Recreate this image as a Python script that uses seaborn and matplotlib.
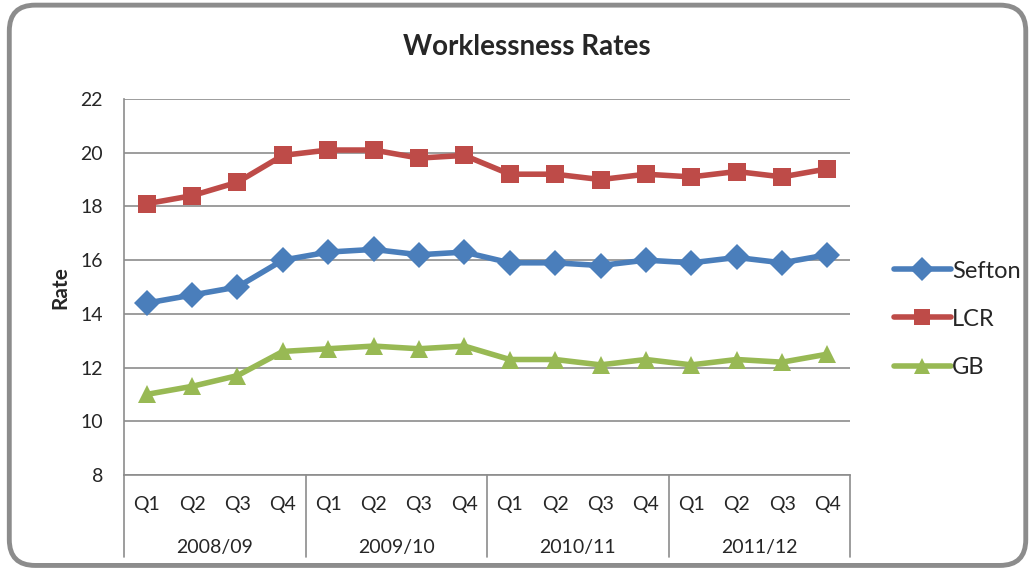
import pandas as pd
import seaborn as sns
import matplotlib.pyplot as plt
from matplotlib.patches import FancyBboxPatch
import matplotlib.transforms as mtransforms

sns.set_theme(style="white")
plt.rcParams['font.family'] = ['Lato', 'DejaVu Sans']

# data
years = ["2008/09", "2009/10", "2010/11", "2011/12"]
quarters = ["Q1", "Q2", "Q3", "Q4"]
sefton = [14.4, 14.7, 15.0, 16.0, 16.3, 16.4, 16.2, 16.3, 15.9, 15.9, 15.8, 16.0, 15.9, 16.1, 15.9, 16.2]
lcr = [18.1, 18.4, 18.9, 19.9, 20.1, 20.1, 19.8, 19.9, 19.2, 19.2, 19.0, 19.2, 19.1, 19.3, 19.1, 19.4]
gb = [11.0, 11.3, 11.7, 12.6, 12.7, 12.8, 12.7, 12.8, 12.3, 12.3, 12.1, 12.3, 12.1, 12.3, 12.2, 12.5]

n = len(sefton)
df = pd.DataFrame({
    'idx': list(range(n)) * 3,
    'rate': sefton + lcr + gb,
    'series': ['Sefton'] * n + ['LCR'] * n + ['GB'] * n,
})

palette = {'Sefton': '#4A7EBB', 'LCR': '#BE4B48', 'GB': '#98B954'}
markers = {'Sefton': 'D', 'LCR': 's', 'GB': '^'}

fig = plt.figure(figsize=(10.33, 5.70), dpi=100)
ax = fig.add_axes([0.120, 0.1667, 0.703, 0.6596])

sns.lineplot(data=df, x='idx', y='rate', hue='series', style='series',
             markers=markers, dashes=False, palette=palette, linewidth=4,
             markersize=13, markeredgewidth=0, ax=ax, legend=False)

ax.set_xlim(-0.5, n - 0.5)
ax.set_ylim(8, 22)
ax.set_yticks(range(8, 23, 2))
ax.set_xticks(range(n))
ax.set_xticklabels(quarters * len(years), fontsize=14)
ax.tick_params(axis='y', labelsize=14, length=0, pad=15)
ax.tick_params(axis='x', length=0, pad=15)
ax.yaxis.grid(True, color='#8C8C8C', linewidth=1.2)
ax.set_axisbelow(True)
for s in ['top', 'right']:
    ax.spines[s].set_visible(False)
for s in ['left', 'bottom']:
    ax.spines[s].set_color('#8C8C8C')
    ax.spines[s].set_linewidth(1.2)
ax.set_xlabel('')
ax.set_ylabel('')
fig.text(0.058, 0.496, 'Rate', rotation=90, ha='center', va='center',
         fontsize=15, fontweight='bold')

# group labels and separators
trans = mtransforms.blended_transform_factory(ax.transData, ax.transAxes)
for i, yr in enumerate(years):
    ax.text(i * 4 + 1.5, -0.193, yr, transform=trans, ha='center', va='center', fontsize=14)
for b in range(0, n + 1, 4):
    ax.plot([b - 0.5, b - 0.5], [0, -0.218], transform=trans, color='#8C8C8C',
            linewidth=1.2, clip_on=False)

fig.text(0.510, 0.917, 'Worklessness Rates', ha='center', va='center',
         fontsize=20, fontweight='bold')

handles = [plt.Line2D([], [], color=palette[k], marker=markers[k], linewidth=4,
                      markersize=12, markeredgewidth=0) for k in ['Sefton', 'LCR', 'GB']]
fig.legend(handles, ['Sefton', 'LCR', 'GB'], loc='center left',
           bbox_to_anchor=(0.845, 0.44), frameon=False, fontsize=17,
           handlelength=2.4, handletextpad=0.05, labelspacing=1.15)

fig.patches.append(FancyBboxPatch((0.009, 0.008), 0.984, 0.983,
                                  boxstyle='round,pad=0,rounding_size=0.025',
                                  transform=fig.transFigure, facecolor='none',
                                  edgecolor='#8C8C8C', linewidth=3.5,
                                  mutation_aspect=1033 / 570))

fig.savefig('out.png', dpi=100)
